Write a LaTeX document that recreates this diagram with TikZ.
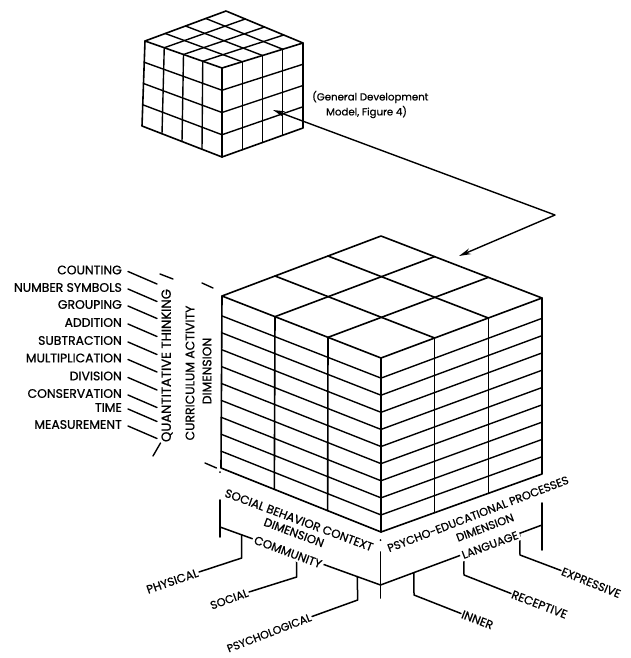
\documentclass[tikz,border=0pt]{standalone}
\usepackage{fontspec}
\setmainfont{Poppins}[FakeBold=0.8]
\usetikzlibrary{calc,arrows.meta}
\begin{document}
\begin{tikzpicture}[x=1pt,y=-1pt,line cap=round,line join=round,
  edge/.style={line width=1.6pt},
  thin edge/.style={line width=1.4pt},
  leader/.style={line width=1.5pt},
  lbl/.style={font=\fontsize{11.8}{13}\selectfont,inner sep=1pt},
  leftlbl/.style={font=\fontsize{12.4}{13}\selectfont,inner sep=1pt},
  captext/.style={font=\fontsize{10.2}{12}\selectfont,inner sep=1pt},
  onwhite/.style={fill=white,inner sep=2pt}]
\useasboundingbox (0,0) rectangle (630,658);

% ---------- small cube (4x4x4) ----------
\coordinate (sTB) at (226,11);
\coordinate (sTL) at (145,41);
\coordinate (sTF) at (222,68);
\coordinate (sTR) at (303,43);
\coordinate (sBL) at (142,126);
\coordinate (sBF) at (222,157);
\coordinate (sBR) at (303,128);
\draw[edge] (sTL) -- (sTB) -- (sTR) -- (sBR) -- (sBF) -- (sBL) -- cycle;
\draw[edge] (sTL) -- (sTF) -- (sTR) (sTF) -- (sBF);
\foreach \i in {1,2,3}{
  \draw[thin edge] ($(sTL)!\i/4!(sTF)$) -- ($(sTB)!\i/4!(sTR)$);
  \draw[thin edge] ($(sTF)!\i/4!(sTR)$) -- ($(sTL)!\i/4!(sTB)$);
  \draw[thin edge] ($(sTL)!\i/4!(sTF)$) -- ($(sBL)!\i/4!(sBF)$);
  \draw[thin edge] ($(sTF)!\i/4!(sTR)$) -- ($(sBF)!\i/4!(sBR)$);
  \draw[thin edge] ($(sTL)!\i/4!(sBL)$) -- ($(sTF)!\i/4!(sBF)$) -- ($(sTR)!\i/4!(sBR)$);
}

% ---------- big cube ----------
\coordinate (TB) at (381,236);
\coordinate (TL) at (222,296);
\coordinate (TF) at (381,358);
\coordinate (TR) at (542,298);
\coordinate (BL) at (221,468);
\coordinate (BF) at (381,532);
\coordinate (BR) at (542,474);
\draw[edge] (TL) -- (TB) -- (TR) -- (BR) -- (BF) -- (BL) -- cycle;
\draw[edge] (TL) -- (TF) -- (TR) (TF) -- (BF);
\foreach \i in {1,2}{
  \draw[edge] ($(TL)!\i/3!(TF)$) -- ($(TB)!\i/3!(TR)$);
  \draw[edge] ($(TF)!\i/3!(TR)$) -- ($(TL)!\i/3!(TB)$);
  \draw[edge] ($(TL)!\i/3!(TF)$) -- ($(BL)!\i/3!(BF)$);
  \draw[edge] ($(TF)!\i/3!(TR)$) -- ($(BF)!\i/3!(BR)$);
}
\foreach \f in {0.1156,0.2139,0.3122,0.4105,0.5088,0.6071,0.7054,0.8037,0.9020}{
  \draw[thin edge] ($(TL)!\f!(BL)$) -- ($(TF)!\f!(BF)$) -- ($(TR)!\f!(BR)$);
}

% ---------- arrow between the models ----------
\coordinate (arrA) at (273,110);
\coordinate (arrBend) at (555,215);
\coordinate (arrB) at (459,256);
\draw[line width=1.4pt,{Stealth[length=12pt,width=6pt]}-{Stealth[length=12pt,width=6pt]}]
  (arrA) -- (arrBend) -- (arrB);
\node[captext,anchor=west] (gdm1) at (311,97) {(General Development};
\node[captext,anchor=west] (gdm2) at (325,112) {Model, Figure 4)};

% ---------- curriculum activity dimension ----------
\foreach \t/\y [count=\k] in {COUNTING/270,NUMBER SYMBOLS/287.5,GROUPING/304.5,
  ADDITION/322.5,SUBTRACTION/340.5,MULTIPLICATION/358,DIVISION/376,
  CONSERVATION/393.5,TIME/407.5,MEASUREMENT/424.5}{
  \node[leftlbl,anchor=east] (cur\k) at (123,\y) {\t};
  \draw[thin edge] (128,\y+1.5) -- (157,\y+14);
}
\draw[thin edge] (213,288) -- (202,283);
\draw[thin edge] (216.5,468) -- (205,463);
\draw[thin edge] (160,274) -- (173,279);
\draw[thin edge] (153,456) -- (160.5,443);
\node[leftlbl,font=\fontsize{13.2}{14}\selectfont,rotate=90] (qt) at (167,365.5) {QUANTITATIVE THINKING};
\node[leftlbl,rotate=90] (cad1) at (190,373) {CURRICULUM ACTIVITY};
\node[leftlbl,rotate=90] (cad2) at (207,371) {DIMENSION};

% ---------- extension and dimension lines below ----------
\fill (220,472) circle (1pt);
\fill (380.5,540) circle (1pt);
\draw[edge] (220,500) -- (220,537);
\draw[edge] (380.5,552) -- (380.5,598);
\draw[edge] (542,503) -- (542,550);
\coordinate (dimL) at (220,527);
\coordinate (dimF) at (380.5,585);
\coordinate (dimR) at (542,525);
\draw[leader] (dimL) -- (dimF) -- (dimR);

% sub-category leaders
\coordinate (phyE) at (199,572);
\coordinate (socE) at (249,592);
\coordinate (psyE) at (312,616.5);
\coordinate (innE) at (461,613.5);
\coordinate (recE) at (511,593.5);
\coordinate (expE) at (561,570.5);
\draw[leader] ($(dimL)!0.135!(dimF)$) -- (241.7,558) -- (phyE);
\draw[leader] ($(dimL)!0.476!(dimF)$) -- (296.7,577) -- (socE);
\draw[leader] ($(dimL)!0.855!(dimF)$) -- (357.7,600) -- (psyE);
\draw[leader] ($(dimF)!0.207!(dimR)$) -- (414,595) -- (innE);
\draw[leader] ($(dimF)!0.516!(dimR)$) -- (464,575) -- (recE);
\draw[leader] ($(dimF)!0.862!(dimR)$) -- (520,555) -- (expE);

\node[lbl,onwhite,rotate=-20.5] (comm) at (288,552) {COMMUNITY};
\node[lbl,onwhite,font=\fontsize{11.3}{13}\selectfont,rotate=20.4] (lang) at (490,545) {LANGUAGE};

\node[lbl,rotate=-20.5] (sbc) at (299,520) {SOCIAL BEHAVIOR CONTEXT};
\node[lbl,rotate=-20.5] (sbcd) at (294,532.5) {DIMENSION};
\node[lbl,font=\fontsize{11.3}{13}\selectfont,rotate=21] (pep) at (478,514) {PSYCHO-EDUCATIONAL PROCESSES};
\node[lbl,font=\fontsize{11.3}{13}\selectfont,rotate=20.5] (pepd) at (485,527.5) {DIMENSION};

\node[lbl,rotate=19,anchor=east] (phy) at (phyE) {PHYSICAL};
\node[lbl,font=\fontsize{11.3}{13}\selectfont,rotate=20,anchor=east] (soc) at (socE) {SOCIAL};
\node[lbl,font=\fontsize{11}{13}\selectfont,rotate=21,anchor=east] (psy) at (psyE) {PSYCHOLOGICAL};
\node[lbl,rotate=-21,anchor=west] (inn) at (innE) {INNER};
\node[lbl,rotate=-21,anchor=west] (rec) at (recE) {RECEPTIVE};
\node[lbl,font=\fontsize{11.5}{13}\selectfont,rotate=-22,anchor=west] (expr) at (expE) {EXPRESSIVE};
\end{tikzpicture}
\end{document}
